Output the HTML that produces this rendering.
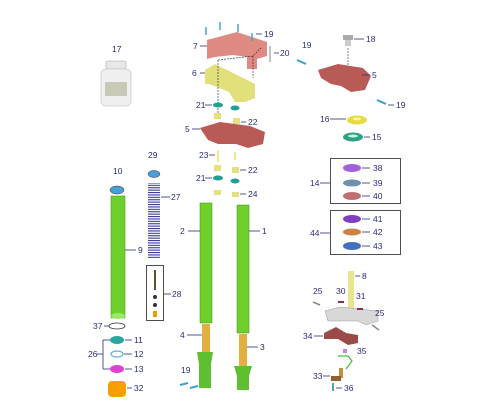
<!DOCTYPE html>
<html><head><meta charset="utf-8"><style>
html,body{margin:0;padding:0;background:#fff}
svg{display:block}
text{font-family:"Liberation Sans",sans-serif;font-size:8.5px;fill:#2b2b78}
.l{stroke:#2b2b78;stroke-width:0.8;fill:none}
</style></head><body>
<svg width="500" height="420" viewBox="0 0 500 420">
<defs><pattern id="coil" width="12" height="2.4" patternUnits="userSpaceOnUse"><rect width="12" height="1.1" fill="#3a3a9a"/></pattern></defs>
<g>
<rect x="106" y="61" width="20" height="8" rx="2" fill="#e8e8e8" stroke="#aaa" stroke-width="0.6"/>
<rect x="101" y="69" width="30" height="37" rx="5" fill="#f0f0f0" stroke="#b8b8b8" stroke-width="0.6"/>
<rect x="105" y="82" width="22" height="14" fill="#c9c9b8"/>
<text x="112" y="52">17</text></g>
<g>
<ellipse cx="117" cy="190" rx="7" ry="4" fill="#4a9fd4" stroke="#333" stroke-width="0.5"/>
<rect x="111" y="196" width="14" height="122" fill="#6fd02c" stroke="#3f8f15" stroke-width="0.5"/>
<ellipse cx="118" cy="316" rx="7" ry="3" fill="#9be86a"/>
<text x="113" y="174">10</text><line class="l" x1="125" y1="250" x2="136" y2="250"/><text x="138" y="253">9</text></g>
<g>
<ellipse cx="154" cy="174" rx="6" ry="3.5" fill="#4a9fd4" stroke="#333" stroke-width="0.5"/>
<rect x="148" y="183" width="12" height="75" fill="url(#coil)"/>
<text x="148" y="158">29</text><line class="l" x1="161" y1="197" x2="170" y2="197"/><text x="171" y="200">27</text></g>
<g>
<rect x="146.5" y="265.5" width="17" height="55" fill="none" stroke="#222" stroke-width="0.8"/>
<rect x="154" y="270" width="2" height="20" fill="#553"/><circle cx="155" cy="297" r="2" fill="#333"/><circle cx="155" cy="305" r="2" fill="#333"/><rect x="153" y="311" width="4" height="6" fill="#e8a000"/>
<line class="l" x1="164" y1="294" x2="171" y2="294"/><text x="172" y="297">28</text></g>
<g>
<ellipse cx="117" cy="326" rx="8" ry="3" fill="none" stroke="#333" stroke-width="0.8"/>
<ellipse cx="117" cy="340" rx="7" ry="4" fill="#2aa6a0"/>
<ellipse cx="117" cy="354" rx="6" ry="3" fill="none" stroke="#5ab0e0" stroke-width="1.2"/>
<ellipse cx="117" cy="369" rx="7" ry="4" fill="#e040d0"/>
<rect x="108" y="381" width="18" height="16" rx="4" fill="#f5a000"/>
<text x="93" y="329">37</text><line class="l" x1="104" y1="326" x2="109" y2="326"/>
<line class="l" x1="103" y1="340" x2="103" y2="369"/><line class="l" x1="103" y1="340" x2="110" y2="340"/><line class="l" x1="103" y1="369" x2="110" y2="369"/><line class="l" x1="97" y1="354" x2="103" y2="354"/>
<text x="88" y="357">26</text>
<line class="l" x1="125" y1="340" x2="132" y2="340"/><text x="134" y="343">11</text>
<line class="l" x1="124" y1="354" x2="132" y2="354"/><text x="134" y="357">12</text>
<line class="l" x1="125" y1="369" x2="132" y2="369"/><text x="134" y="372">13</text>
<line class="l" x1="127" y1="388" x2="132" y2="388"/><text x="134" y="391">32</text></g>
<g>
<rect x="200" y="203" width="12" height="120" fill="#6fd02c" stroke="#3f8f15" stroke-width="0.5"/>
<rect x="202" y="324" width="8" height="28" fill="#e0b040"/>
<path d="M197 352 h16 l-2 12 v24 h-12 v-24z" fill="#5ec030"/>
<line class="l" x1="188" y1="231" x2="200" y2="231"/><text x="180" y="234">2</text>
<line class="l" x1="187" y1="335" x2="202" y2="335"/><text x="180" y="338">4</text></g>
<g>
<rect x="237" y="205" width="12" height="128" fill="#6fd02c" stroke="#3f8f15" stroke-width="0.5"/>
<rect x="239" y="334" width="8" height="32" fill="#e0b040"/>
<path d="M234 366 h18 l-3 10 v14 h-12 v-14z" fill="#5ec030"/>
<line class="l" x1="249" y1="231" x2="260" y2="231"/><text x="262" y="234">1</text>
<line class="l" x1="247" y1="347" x2="258" y2="347"/><text x="260" y="350">3</text></g>
<g>
<line x1="180" y1="385" x2="188" y2="383" stroke="#3aa0d0" stroke-width="2"/><line x1="190" y1="388" x2="198" y2="386" stroke="#3aa0d0" stroke-width="2"/>
<text x="181" y="373">19</text></g>
<g>
<path d="M207 40 l30 -8 l30 10 v14 l-10 3 v10 h-10 v-12 l-14 -2 l-18 2 l-8 2z" fill="#e08a84"/>
<g stroke="#3aa0d0" stroke-width="1.4"><line x1="206" y1="27" x2="206" y2="35"/><line x1="220" y1="22" x2="220" y2="30"/><line x1="238" y1="24" x2="238" y2="32"/><line x1="252" y1="33" x2="252" y2="41"/></g>
<line class="l" x1="200" y1="46" x2="207" y2="46"/><text x="193" y="49">7</text>
<line class="l" x1="256" y1="34" x2="262" y2="34"/><text x="264" y="37">19</text>
<line x1="270" y1="46" x2="270" y2="62" stroke="#999" stroke-width="1.2"/><line class="l" x1="274" y1="53" x2="279" y2="53"/><text x="280" y="56">20</text></g>
<g>
<path d="M205 70 l10 -6 l40 20 v14 l-10 4 h-10 l-6 -10 l-20 -8 h-4z" fill="#e2e07a"/>
<line class="l" x1="200" y1="73" x2="205" y2="73"/><text x="192" y="76">6</text>
<path d="M218 60 l35 -4 l8 -8 M218 60 v55 M253 56 v22" stroke="#222" stroke-width="0.6" fill="none" stroke-dasharray="2 1"/></g>
<g>
<ellipse cx="218" cy="105" rx="5" ry="2.5" fill="#20a090"/><ellipse cx="235" cy="108" rx="4.5" ry="2.5" fill="#20a090"/>
<rect x="214" y="113" width="7" height="6" fill="#e6e080"/><rect x="233" y="118" width="7" height="6" fill="#e6e080"/>
<line class="l" x1="205" y1="105" x2="212" y2="105"/><text x="196" y="108">21</text>
<line class="l" x1="241" y1="122" x2="246" y2="122"/><text x="248" y="125">22</text></g>
<g>
<path d="M200 128 l20 -6 l30 4 l15 6 l-2 12 l-15 4 l-12 -4 h-18 l-10 -4z" fill="#b85a55"/>
<line class="l" x1="192" y1="129" x2="200" y2="129"/><text x="185" y="132">5</text></g>
<g>
<line x1="218" y1="150" x2="218" y2="162" stroke="#f0e890" stroke-width="2"/><line x1="235" y1="152" x2="235" y2="160" stroke="#f0e890" stroke-width="2"/>
<rect x="214" y="165" width="7" height="6" fill="#e6e080"/><rect x="232" y="167" width="7" height="6" fill="#e6e080"/>
<ellipse cx="218" cy="178" rx="5" ry="2.5" fill="#20a090"/><ellipse cx="235" cy="181" rx="4.5" ry="2.5" fill="#20a090"/>
<rect x="214" y="190" width="7" height="5" fill="#e6e080"/><rect x="232" y="192" width="7" height="5" fill="#e6e080"/>
<text x="199" y="158">23</text><line class="l" x1="209" y1="155" x2="215" y2="155"/>
<line class="l" x1="240" y1="170" x2="246" y2="170"/><text x="248" y="173">22</text>
<line class="l" x1="205" y1="178" x2="212" y2="178"/><text x="196" y="181">21</text>
<line class="l" x1="240" y1="194" x2="246" y2="194"/><text x="248" y="197">24</text></g>
<g>
<rect x="343" y="35" width="10" height="5" fill="#aaa"/><rect x="345" y="40" width="6" height="6" fill="#ccc"/>
<line class="l" x1="354" y1="39" x2="364" y2="39"/><text x="366" y="42">18</text>
<line x1="348" y1="48" x2="348" y2="66" stroke="#333" stroke-width="0.6" stroke-dasharray="2 1"/>
<path d="M318 70 l20 -6 l25 4 l8 8 l-6 14 l-14 2 l-10 -6 l-10 -2 l-10 -6z" fill="#b85a55"/>
<line class="l" x1="362" y1="75" x2="370" y2="75"/><text x="372" y="78">5</text>
<line x1="297" y1="60" x2="306" y2="64" stroke="#3aa0d0" stroke-width="2"/><text x="302" y="48">19</text>
<line x1="377" y1="100" x2="386" y2="104" stroke="#3aa0d0" stroke-width="2"/><line class="l" x1="388" y1="105" x2="394" y2="105"/><text x="396" y="108">19</text>
<ellipse cx="357" cy="120" rx="10" ry="4.5" fill="#e6dc40"/><ellipse cx="357" cy="119" rx="4" ry="1.5" fill="#fff7a0"/>
<line class="l" x1="330" y1="119" x2="346" y2="119"/><text x="320" y="122">16</text>
<ellipse cx="353" cy="137" rx="10" ry="4.5" fill="#30a080"/><ellipse cx="353" cy="136" rx="5" ry="1.5" fill="#bfe"/>
<line class="l" x1="364" y1="137" x2="370" y2="137"/><text x="372" y="140">15</text></g>
<g>
<rect x="330.5" y="158.5" width="70" height="45" fill="none" stroke="#222" stroke-width="0.8"/>
<ellipse cx="352" cy="168" rx="9" ry="4" fill="#a060d8"/><ellipse cx="352" cy="183" rx="9" ry="3.5" fill="#7090b0"/><ellipse cx="352" cy="196" rx="9" ry="4" fill="#c07070"/>
<line class="l" x1="362" y1="168" x2="370" y2="168"/><text x="373" y="171">38</text>
<line class="l" x1="362" y1="183" x2="370" y2="183"/><text x="373" y="186">39</text>
<line class="l" x1="362" y1="196" x2="370" y2="196"/><text x="373" y="199">40</text>
<line class="l" x1="320" y1="183" x2="330" y2="183"/><text x="310" y="186">14</text></g>
<g>
<rect x="330.5" y="210.5" width="70" height="44" fill="none" stroke="#222" stroke-width="0.8"/>
<ellipse cx="352" cy="219" rx="9" ry="4" fill="#8040c0"/><ellipse cx="352" cy="232" rx="9" ry="3.5" fill="#d08040"/><ellipse cx="352" cy="246" rx="9" ry="4" fill="#4070c0"/>
<line class="l" x1="362" y1="219" x2="370" y2="219"/><text x="373" y="222">41</text>
<line class="l" x1="362" y1="232" x2="370" y2="232"/><text x="373" y="235">42</text>
<line class="l" x1="362" y1="246" x2="370" y2="246"/><text x="373" y="249">43</text>
<line class="l" x1="320" y1="233" x2="330" y2="233"/><text x="310" y="236">44</text></g>
<g>
<rect x="348" y="271" width="6" height="46" fill="#e8e490"/>
<line class="l" x1="355" y1="276" x2="360" y2="276"/><text x="362" y="279">8</text>
<path d="M325 311 l15 -4 l38 4 v10 l-12 4 l-8 -4 h-30z" fill="#d8d8d8" stroke="#999" stroke-width="0.5"/>
<rect x="338" y="301" width="6" height="2" fill="#803060"/><rect x="357" y="308" width="6" height="2" fill="#803060"/>
<text x="313" y="294">25</text><line x1="313" y1="302" x2="320" y2="305" stroke="#888" stroke-width="1.5"/>
<text x="336" y="294">30</text><text x="356" y="299">31</text>
<text x="375" y="316">25</text><line x1="372" y1="325" x2="379" y2="330" stroke="#888" stroke-width="1.5"/>
<path d="M324 333 l12 -6 l10 6 l12 2 v8 l-10 2 l-10 -6 l-14 0z" fill="#9a4a48"/>
<line class="l" x1="314" y1="336" x2="323" y2="336"/><text x="303" y="339">34</text>
<rect x="343" y="349" width="4" height="4" fill="#d080e0"/><text x="357" y="354">35</text>
<path d="M338 356 l10 0 l4 5 l-6 8" stroke="#40c040" stroke-width="1.2" fill="none"/>
<rect x="339" y="368" width="4" height="10" fill="#c09040"/><rect x="331" y="376" width="10" height="5" fill="#906030"/>
<line class="l" x1="323" y1="376" x2="330" y2="376"/><text x="313" y="379">33</text>
<line x1="333" y1="383" x2="333" y2="391" stroke="#2080a0" stroke-width="1.5"/><line class="l" x1="336" y1="388" x2="342" y2="388"/><text x="344" y="391">36</text></g>
</svg>
</body></html>
